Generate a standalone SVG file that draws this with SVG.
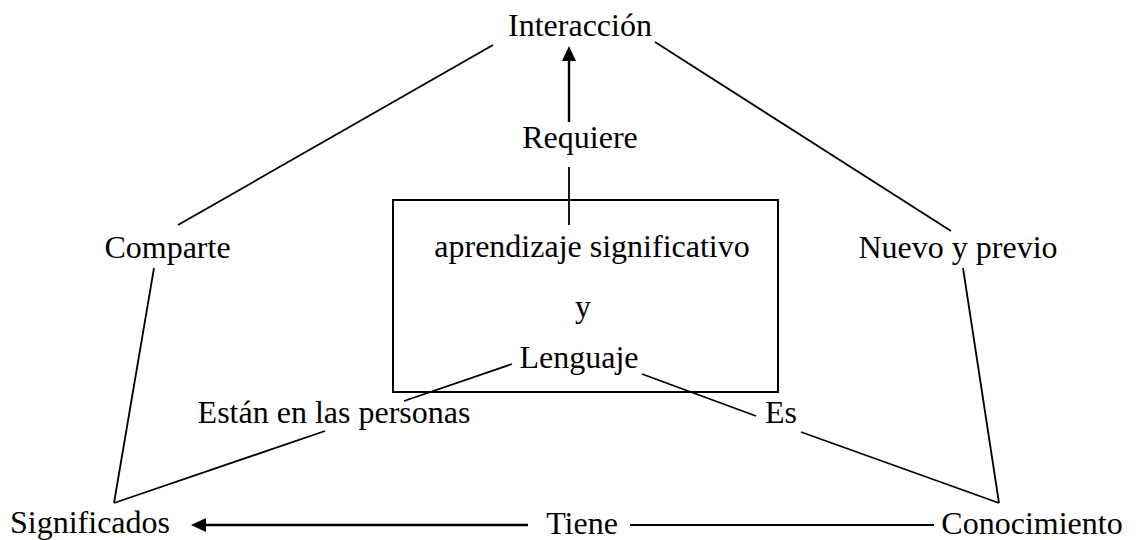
<svg xmlns="http://www.w3.org/2000/svg" width="1139" height="540" viewBox="0 0 1139 540">
<style>
text{font-family:"Liberation Serif","Times New Roman",serif;font-size:32px;fill:#000;text-anchor:middle}
.c{stroke:#000;stroke-width:1.8;fill:none}
.a{stroke:#000;stroke-width:2.4;fill:none}
.box{stroke:#000;stroke-width:2;fill:#fff}
</style>
<defs>
<marker id="ah" markerUnits="userSpaceOnUse" viewBox="0 0 15 14" refX="0" refY="7" markerWidth="15" markerHeight="14" orient="auto">
<path d="M0,0 L15,7 L0,14 z" fill="#000"/>
</marker>
</defs>
<g id="box-node">
<rect class="box" x="393" y="200" width="385" height="192"/>
</g>
<g id="connectors">
<line class="c" x1="493" y1="45" x2="178" y2="225"/>
<line class="c" x1="655" y1="42" x2="951" y2="231"/>
<line class="c" x1="154" y1="268" x2="114" y2="503"/>
<line class="c" x1="963" y1="268" x2="999" y2="503"/>
<line class="c" x1="114" y1="503" x2="325" y2="431"/>
<line class="c" x1="512" y1="364" x2="404" y2="401"/>
<line class="c" x1="642" y1="374" x2="756" y2="416"/>
<line class="c" x1="801" y1="432" x2="999" y2="503"/>
<line class="c" x1="569" y1="167" x2="569" y2="225"/>
<line class="a" x1="569" y1="122" x2="569" y2="61" marker-end="url(#ah)"/>
<line class="a" x1="528" y1="525" x2="206" y2="525" marker-end="url(#ah)"/>
<line class="c" x1="630" y1="525" x2="934" y2="525"/>
</g>
<g id="interaccion"><text x="580" y="36">Interacción</text></g>
<g id="requiere"><text x="580" y="148">Requiere</text></g>
<g id="comparte"><text x="167.5" y="258">Comparte</text></g>
<g id="nuevo-previo"><text x="958" y="258">Nuevo y previo</text></g>
<g id="aprendizaje"><text x="592" y="257">aprendizaje significativo</text></g>
<g id="y"><text x="583" y="317">y</text></g>
<g id="lenguaje"><text x="579" y="368">Lenguaje</text></g>
<g id="estan"><text x="334" y="423">Están en las personas</text></g>
<g id="es"><text x="781" y="423">Es</text></g>
<g id="significados"><text x="90" y="533">Significados</text></g>
<g id="tiene"><text x="582" y="534">Tiene</text></g>
<g id="conocimiento"><text x="1032" y="534">Conocimiento</text></g>
</svg>
